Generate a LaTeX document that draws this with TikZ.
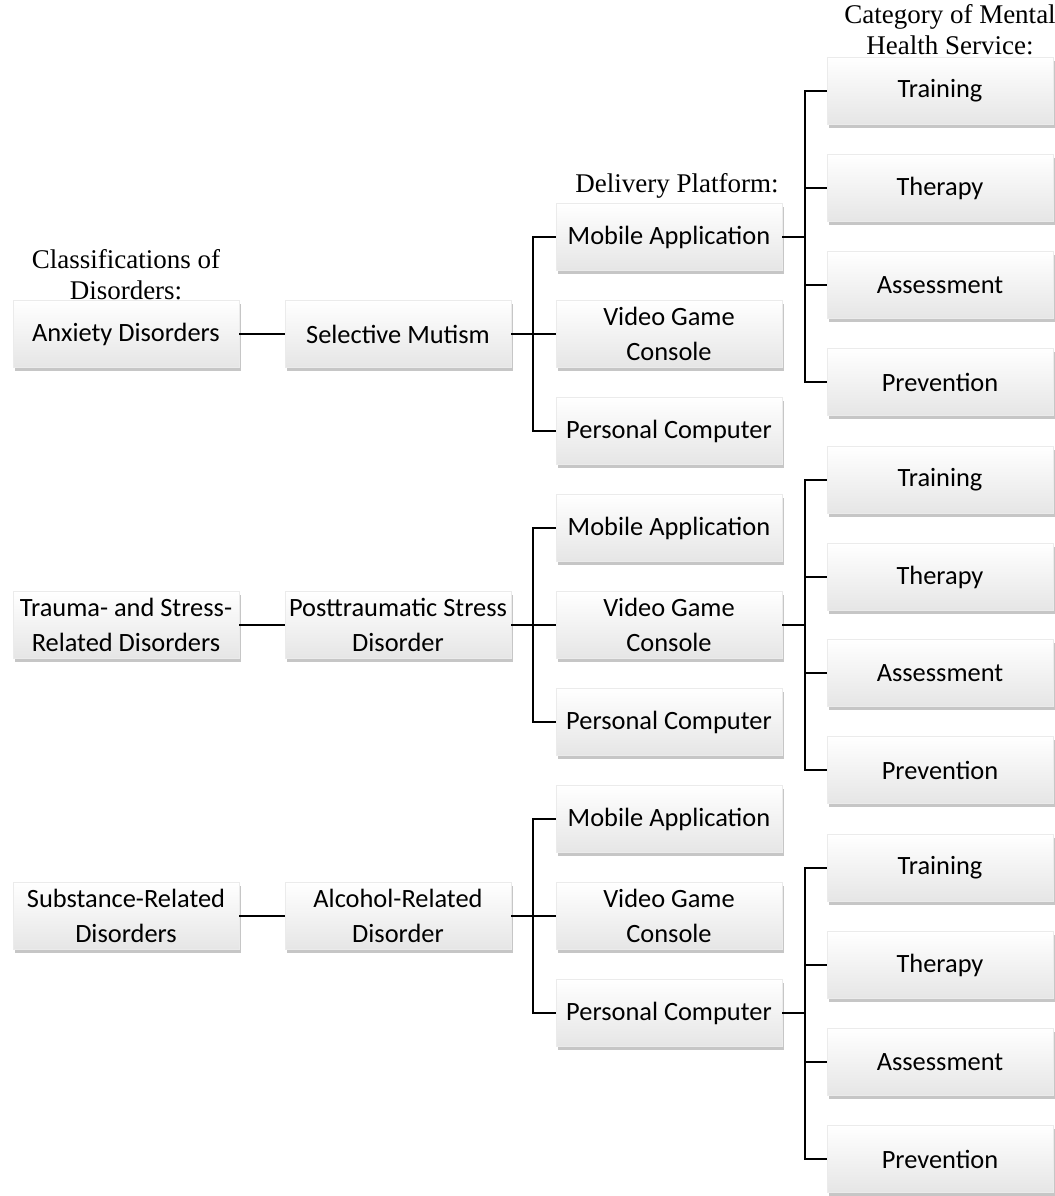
\documentclass[tikz,border=0pt]{standalone}
\usepackage{fontspec}
\setmainfont{Liberation Serif}
\newfontfamily\boxfont{Carlito}
\usepackage{tikz}
\usetikzlibrary{positioning, shadows}

\begin{document}
\begin{tikzpicture}[x=0.5pt, y=-0.5pt,
    box/.style={rectangle, minimum width=113pt, minimum height=33.5pt, inner sep=2pt,
        align=center, top color=white, bottom color=black!10, draw=black!8, line width=0.3pt,
        drop shadow={shadow xshift=1.2pt, shadow yshift=-1.8pt, opacity=0.45},
        font=\boxfont\fontsize{13.2}{17.5}\selectfont},
    head/.style={inner sep=0pt, align=center, font=\fontsize{13.5}{15.5}\selectfont},
    link/.style={line width=1pt}]
    \useasboundingbox (0,0) rectangle (1055,1196);

    % Anxiety disorders
    \node[box] (ad)  at (126,334) {Anxiety Disorders};
    \node[box] (sm)  at (398,334) {Selective Mutism};
    \node[box] (ma1) at (669,237) {Mobile Application};
    \node[box] (vg1) at (669,334) {Video Game\\Console};
    \node[box] (pc1) at (669,431) {Personal Computer};
    \node[box] (tr1) at (940,91)  {Training};
    \node[box] (th1) at (940,188) {Therapy};
    \node[box] (as1) at (940,285) {Assessment};
    \node[box] (pv1) at (940,382) {Prevention};

    % Trauma- and stress-related disorders
    \node[box] (tsd)  at (126,625) {Trauma- and Stress-\\Related Disorders};
    \node[box] (ptsd) at (398,625) {Posttraumatic Stress\\Disorder};
    \node[box] (ma2) at (669,528) {Mobile Application};
    \node[box] (vg2) at (669,625) {Video Game\\Console};
    \node[box] (pc2) at (669,722) {Personal Computer};
    \node[box] (tr2) at (940,480) {Training};
    \node[box] (th2) at (940,577) {Therapy};
    \node[box] (as2) at (940,673) {Assessment};
    \node[box] (pv2) at (940,770) {Prevention};

    % Substance-related disorders
    \node[box] (srd) at (126,916) {Substance-Related\\Disorders};
    \node[box] (ard) at (398,916) {Alcohol-Related\\Disorder};
    \node[box] (ma3) at (669,819)  {Mobile Application};
    \node[box] (vg3) at (669,916)  {Video Game\\Console};
    \node[box] (pc3) at (669,1013) {Personal Computer};
    \node[box] (tr3) at (940,868)  {Training};
    \node[box] (th3) at (940,965)  {Therapy};
    \node[box] (as3) at (940,1062) {Assessment};
    \node[box] (pv3) at (940,1159) {Prevention};

    % Column headings
    \node[head, above=0pt of ad] (hcd) {Classifications of\\Disorders:};
    \node[head, above=2pt of ma1, xshift=4pt] (hdp) {Delivery Platform:};
    \node[head, above=1pt of tr1, xshift=5pt] (hmh) {Category of Mental\\Health Service:};

    % Junctions (trunk at x=533 for platforms, x=805 for services)
    \coordinate (j1) at (533,334);
    \coordinate (k1) at (805,237);
    \coordinate (j2) at (533,625);
    \coordinate (k2) at (805,625);
    \coordinate (j3) at (533,916);
    \coordinate (k3) at (805,1013);

    \draw[link] (ad) -- (sm);
    \draw[link] (sm) -- (j1) -- (vg1);
    \draw[link] (ma1.west) -| (j1) |- (pc1.west);
    \draw[link] (ma1) -- (k1);
    \draw[link] (tr1.west) -| (k1) |- (pv1.west);
    \draw[link] (th1.west) -- (th1.west -| k1);
    \draw[link] (as1.west) -- (as1.west -| k1);

    \draw[link] (tsd) -- (ptsd);
    \draw[link] (ptsd) -- (j2) -- (vg2);
    \draw[link] (ma2.west) -| (j2) |- (pc2.west);
    \draw[link] (vg2) -- (k2);
    \draw[link] (tr2.west) -| (k2) |- (pv2.west);
    \draw[link] (th2.west) -- (th2.west -| k2);
    \draw[link] (as2.west) -- (as2.west -| k2);

    \draw[link] (srd) -- (ard);
    \draw[link] (ard) -- (j3) -- (vg3);
    \draw[link] (ma3.west) -| (j3) |- (pc3.west);
    \draw[link] (pc3) -- (k3);
    \draw[link] (tr3.west) -| (k3) |- (pv3.west);
    \draw[link] (th3.west) -- (th3.west -| k3);
    \draw[link] (as3.west) -- (as3.west -| k3);
\end{tikzpicture}
\end{document}
